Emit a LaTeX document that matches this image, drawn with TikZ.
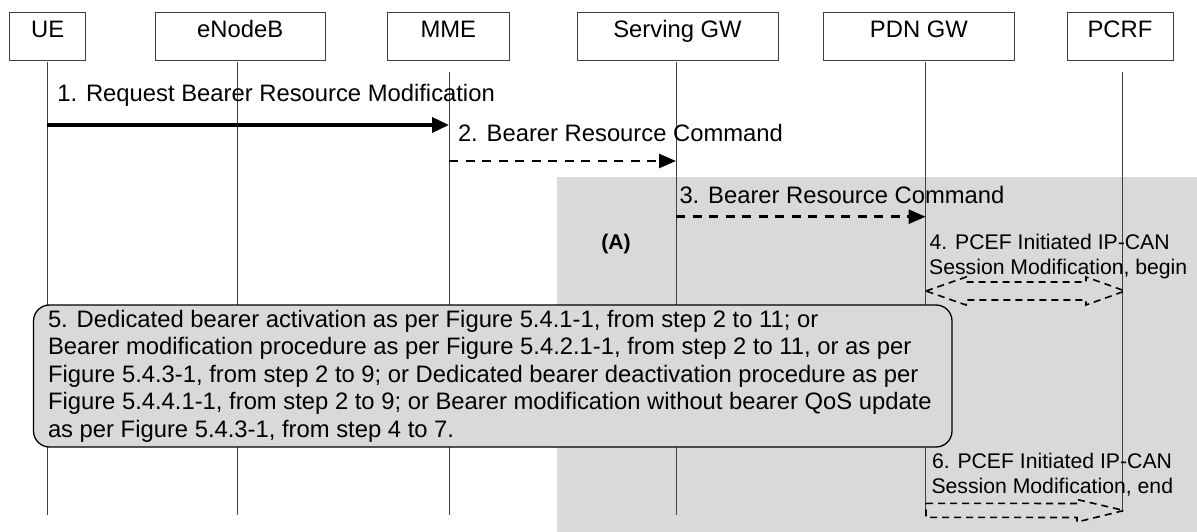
\documentclass[tikz,border=0pt]{standalone}
\usepackage{fontspec}
\setmainfont{Liberation Sans}
\usetikzlibrary{arrows.meta,calc}
\definecolor{regiongray}{HTML}{D9D9D9}
\definecolor{edge}{HTML}{404040}
\begin{document}
\begin{tikzpicture}[x=1pt,y=-1pt,
  every node/.style={inner sep=0pt, outer sep=0pt},
  bigfont/.style={font=\fontsize{23.8}{27.5}\selectfont},
  smallfont/.style={font=\fontsize{21.2}{25}\selectfont},
  entity/.style={draw=edge, line width=1pt, minimum height=48pt, anchor=north west},
  lifeline/.style={draw=edge, line width=1pt},
  msgsolid/.style={line width=3.5pt, -{Triangle[length=17pt,width=15pt]}},
  msgdash/.style={line width=2.5pt, dash pattern=on 9pt off 7.5pt, -{Triangle[length=17pt,width=14pt]}},
  hollow/.style={line width=1.6pt, dash pattern=on 7pt off 5pt, line join=miter},
  procbox/.style={draw=black, line width=1.3pt, fill=regiongray, rounded corners=16pt, anchor=north west},
  lbl/.style={bigfont, anchor=base west},
  slbl/.style={smallfont, anchor=base west},
]
\useasboundingbox (0,0) rectangle (1197,532);
\fill[white] (0,0) rectangle (1197,532);
% shaded region (A)
\fill[regiongray] (557,177) rectangle (1197,532);

% entity boxes
\node[entity, minimum width=76pt]    (ue)   at (9.6,12.3)   {};
\node[entity, minimum width=170.3pt] (enb)  at (155,12.3)   {};
\node[entity, minimum width=121.3pt] (mme)  at (387.7,12.3) {};
\node[entity, minimum width=201pt]   (sgw)  at (577,12.3)   {};
\node[entity, minimum width=190.6pt] (pgw)  at (823.6,12.3) {};
\node[entity, minimum width=106pt]   (pcrf) at (1067,12.3)  {};
\node[bigfont, anchor=base] (tue)   at ($(ue.north)+(0,25)$)   {UE};
\node[bigfont, anchor=base] (tenb)  at ($(enb.north)+(0,25)$)  {eNodeB};
\node[bigfont, anchor=base] (tmme)  at ($(mme.north)+(0,25)$)  {MME};
\node[bigfont, anchor=base] (tsgw)  at ($(sgw.north)+(0,25)$)  {Serving GW};
\node[bigfont, anchor=base] (tpgw)  at ($(pgw.north)+(0,25)$)  {PDN GW};
\node[bigfont, anchor=base] (tpcrf) at ($(pcrf.north)+(0,25)$) {PCRF};

% lifelines
\coordinate (ueT)   at (47.3,62);   \coordinate (ueB)   at (47.3,515);
\coordinate (enbT)  at (237.3,62);  \coordinate (enbB)  at (237.3,515);
\coordinate (mmeT)  at (449,72);    \coordinate (mmeB)  at (449,515);
\coordinate (sgwT)  at (676,62);    \coordinate (sgwB)  at (676,515);
\coordinate (pgwT)  at (925.6,62);  \coordinate (pgwB)  at (925.6,515);
\coordinate (pcrfT) at (1122.2,72); \coordinate (pcrfB) at (1122.2,512);
\foreach \e in {ue,enb,mme,sgw,pgw,pcrf} \draw[lifeline] (\e T) -- (\e B);

% message end points
\coordinate (m1a) at (47.3,125);  \coordinate (m1b) at (449,125);
\coordinate (m2a) at (449,161);   \coordinate (m2b) at (676,161);
\coordinate (m3a) at (676,216.7); \coordinate (m3b) at (925.6,216.7);

% step 5 box
\node[procbox, minimum width=918.5pt, minimum height=142pt] (proc) at (33.5,305) {};
\node[lbl] (p5a) at (48,327)   {5. Dedicated bearer activation as per Figure 5.4.1-1, from step 2 to 11; or};
\node[lbl] (p5b) at (48,354.5) {Bearer modification procedure as per Figure 5.4.2.1-1, from step 2 to 11, or as per};
\node[lbl] (p5c) at (48,382)   {Figure 5.4.3-1, from step 2 to 9; or Dedicated bearer deactivation procedure as per};
\node[lbl] (p5d) at (48,409.5) {Figure 5.4.4.1-1, from step 2 to 9; or Bearer modification without bearer QoS update};
\node[lbl] (p5e) at (48,437)   {as per Figure 5.4.3-1, from step 4 to 7.};

% messages
\draw[msgsolid] (m1a) -- (m1b);
\node[lbl] (l1) at (57.4,102) {1. Request Bearer Resource Modification};
\draw[msgdash] (m2a) -- (m2b);
\node[lbl] (l2) at (458,141.7) {2. Bearer Resource Command};
\draw[msgdash] (m3a) -- (m3b);
\node[lbl] (l3) at (679.5,204) {3. Bearer Resource Command};
\node[anchor=base, font=\fontsize{21.2}{25}\selectfont\bfseries] (A) at (616,249) {(A)};

% step 4
\node[slbl] (l4a) at (929.7,249.5) {4. PCEF Initiated IP-CAN};
\node[slbl] (l4b) at (929.2,274)   {Session Modification, begin};
\coordinate (h4a) at (926,291);
\coordinate (h4b) at (1125,291);
\draw[hollow] (h4a) -- ++(40,-14) -- ++(0,5) -- ($(h4b)+(-39,-9)$) -- ++(0,-5) -- (h4b)
  -- ++(-39,14) -- ++(0,-5) -- ($(h4a)+(40,9)$) -- ++(0,5) -- cycle;

% step 6
\node[slbl] (l6a) at (932,468.3) {6. PCEF Initiated IP-CAN};
\node[slbl] (l6b) at (931.5,493.3) {Session Modification, end};
\coordinate (h6a) at (926,510.3);
\coordinate (h6b) at (1124,510.5);
\draw[hollow] ($(h6a)+(0,-7)$) -- ($(h6b)+(-47,-7)$) -- ++(0,-4) -- (h6b) -- ++(-47,11.5)
  -- ++(0,-4.5) -- ($(h6a)+(0,7)$) -- cycle;
\end{tikzpicture}
\end{document}
